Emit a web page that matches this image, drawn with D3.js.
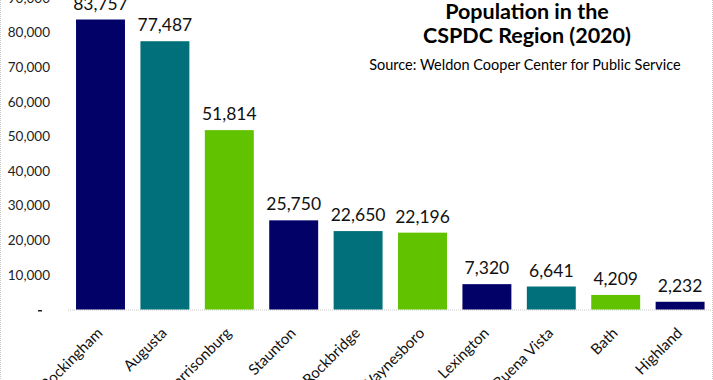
<!DOCTYPE html>
<html>
<head>
<meta charset="utf-8">
<script src="https://cdn.jsdelivr.net/npm/d3@7"></script>
<style>
  body { margin: 0; background: #fff; }
  svg { display: block; font-family: Lato, "Open Sans", sans-serif; }
</style>
</head>
<body>
<div id="chart"></div>
<script>
'use strict'

// data
const localities = ['Rockingham', 'Augusta', 'Harrisonburg', 'Staunton', 'Rockbridge',
  'Waynesboro', 'Lexington', 'Buena Vista', 'Bath', 'Highland']
const population = [83757, 77487, 51814, 25750, 22650, 22196, 7320, 6641, 4209, 2232]
const yTicks = [0, 10000, 20000, 30000, 40000, 50000, 60000, 70000, 80000, 90000]
const titleLines = ['Population in the', 'CSPDC Region (2020)']
const sourceText = 'Source: Weldon Cooper Center for Public Service'

const barColors = ['#020167', '#01707b', '#61c200']

const width = 713, height = 380

let svg = d3.select('#chart')
  .append('svg')
  .attr('width', width)
  .attr('height', height)

// x and y scales
let x = d3.scaleBand()
  .domain(localities)
  .range([68.3, 712.3])
  .paddingInner(0.24)
  .paddingOuter(0.12)

let y = d3.scaleLinear()
  .domain([0, 90000])
  .range([309.5, -2.1])

const fmt = d3.format(',')

// frame (dotted border like the original chart area)
svg.append('line')
  .attr('x1', 0.5).attr('x2', 0.5).attr('y1', 0).attr('y2', height)
  .attr('stroke', '#c8c8c8').attr('stroke-dasharray', '1,1')
svg.append('line')
  .attr('x1', 712.5).attr('x2', 712.5).attr('y1', 0).attr('y2', height)
  .attr('stroke', '#c8c8c8').attr('stroke-dasharray', '1,1')

// y axis labels
let yAxis = svg.append('g')
  .attr('transform', 'translate(50,0)')
  .call(d3.axisLeft(y).tickValues(yTicks).tickSize(0).tickPadding(0)
    .tickFormat(d => d === 0 ? '' : fmt(d)))
yAxis.select('.domain').remove()
yAxis.selectAll('text')
  .attr('fill', '#222')
  .attr('font-size', '13.5px')
  .attr('font-family', 'Lato, sans-serif')

// the accounting style "-" for zero
svg.append('rect')
  .attr('x', 38).attr('y', y(0) + 0.5)
  .attr('width', 4).attr('height', 1.5)
  .attr('fill', '#222')

// baseline
svg.append('line')
  .attr('x1', 68).attr('x2', 712)
  .attr('y1', y(0) + 0.5).attr('y2', y(0) + 0.5)
  .attr('stroke', '#c8c8c8')
  .attr('stroke-dasharray', '1,1')

// bars
svg.append('g').selectAll('rect')
  .data(population).enter()
  .append('rect')
    .attr('x', (d, i) => x(localities[i]))
    .attr('y', d => y(d))
    .attr('width', x.bandwidth())
    .attr('height', d => y(0) - y(d))
    .attr('fill', (d, i) => barColors[i % 3])

// value labels
svg.append('g').selectAll('text')
  .data(population).enter()
  .append('text')
    .attr('x', (d, i) => x(localities[i]) + x.bandwidth() / 2)
    .attr('y', d => y(d) - 10)
    .attr('text-anchor', 'middle')
    .attr('font-size', '17.5px')
    .attr('fill', '#111')
    .text(d => fmt(d))

// rotated category labels
svg.append('g').selectAll('text')
  .data(localities).enter()
  .append('text')
    .attr('transform', d => 'translate(' + (x(d) + x.bandwidth() / 2 + 3) + ',334) rotate(-45)')
    .attr('text-anchor', 'end')
    .attr('font-size', '15px')
    .attr('fill', '#111')
    .text(d => d)

// title
svg.append('g').selectAll('text')
  .data(titleLines).enter()
  .append('text')
    .attr('x', 527)
    .attr('y', (d, i) => 19 + i * 24)
    .attr('text-anchor', 'middle')
    .attr('font-size', '21.5px')
    .attr('font-weight', 'bold')
    .attr('fill', '#000')
    .text(d => d)

svg.append('text')
  .attr('x', 525)
  .attr('y', 70)
  .attr('text-anchor', 'middle')
  .attr('font-size', '14.5px')
  .attr('fill', '#000')
  .text(sourceText)
</script>
</body>
</html>
